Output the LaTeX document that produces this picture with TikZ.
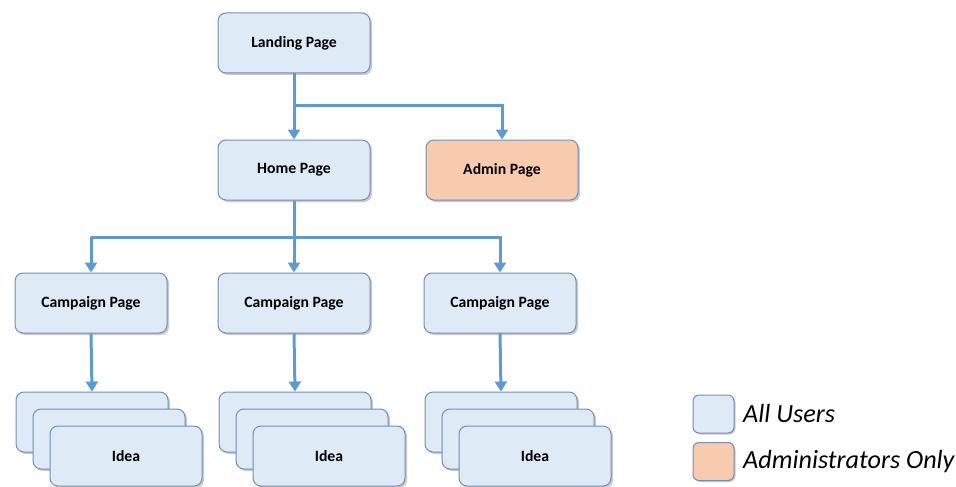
\documentclass[tikz,border=0pt]{standalone}
\usepackage{fontspec}
\setmainfont{Carlito}
\usetikzlibrary{arrows.meta,shadows}
\definecolor{bfill}{HTML}{DEEAF6}
\definecolor{ofill}{HTML}{F8CBAD}
\definecolor{bdraw}{HTML}{6F8FBA}
\definecolor{arr}{HTML}{5B9BD5}
\tikzset{
  pagebox/.style={draw=bdraw, line width=1pt, fill=bfill, rounded corners=8pt,
    minimum width=152pt, minimum height=60pt, font=\fontsize{15.7}{18}\selectfont\bfseries,
    drop shadow={shadow xshift=2pt, shadow yshift=-2pt, opacity=0.35, fill=black!60}},
  adminbox/.style={pagebox, fill=ofill},
  legbox/.style={draw=bdraw, line width=1pt, rounded corners=6pt, minimum width=41pt, minimum height=38pt,
    drop shadow={shadow xshift=1.5pt, shadow yshift=-1.5pt, opacity=0.35, fill=black!60}},
  legtext/.style={anchor=west, font=\fontsize{26.2}{29}\selectfont\itshape, inner sep=0pt},
  conn/.style={draw=arr, line width=3pt, -{Triangle[width=12pt,length=10pt]}},
  line/.style={draw=arr, line width=3pt}
}
\begin{document}
\begin{tikzpicture}[x=1pt,y=-1pt]
\useasboundingbox (0,0) rectangle (956,487);
% top
\node[pagebox] (land) at (294,43) {Landing Page};
\node[pagebox] (home) at (294,170) {Home Page};
\node[adminbox] (admin) at (502,170) {Admin Page};
\coordinate (b1) at (294,105);
\draw[conn] (land.south) -- (home.north);
\draw[conn] (b1) -| (admin.north);
% campaigns
\node[pagebox] (camp1) at (91,303) {Campaign Page};
\node[pagebox] (camp2) at (294,303) {Campaign Page};
\node[pagebox] (camp3) at (500,303) {Campaign Page};
\coordinate (b2) at (294,237);
\draw[conn] (home.south) -- (camp2.north);
\draw[line] (b2) -- (camp1.north |- b2);
\draw[conn] (camp1.north |- b2) -- (camp1.north);
\draw[conn] (b2) -| (camp3.north);
% idea stacks
\foreach \i/\x in {1/92,2/295,3/501} {
  \node[pagebox] (idea\i a) at (\x,422) {};
  \node[pagebox] (idea\i b) at (\x+17,439) {};
  \node[pagebox] (idea\i c) at (\x+34,456) {Idea};
}
\draw[conn] (camp1.south) -- (idea1a.north);
\draw[conn] (camp2.south) -- (idea2a.north);
\draw[conn] (camp3.south) -- (idea3a.north);
% legend
\node[legbox, fill=bfill] (leg1) at (713.5,414) {};
\node[legbox, fill=ofill] (leg2) at (713.5,461.5) {};
\node[legtext] (legt1) at (743,413) {All Users};
\node[legtext] (legt2) at (743,462) {Administrators Only};
\end{tikzpicture}
\end{document}
